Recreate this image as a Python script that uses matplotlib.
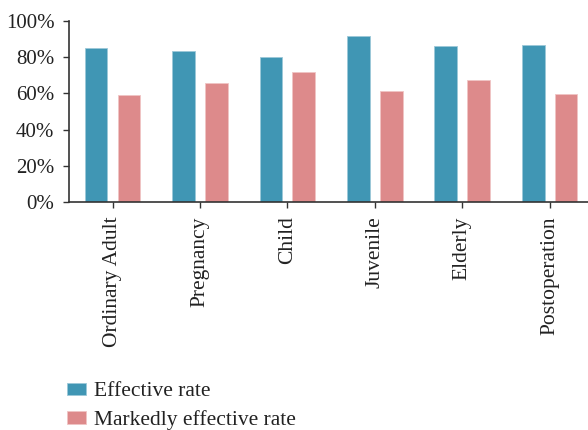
import numpy as np
import matplotlib
matplotlib.use("Agg")
from matplotlib import pyplot as plt
from matplotlib.ticker import PercentFormatter

plt.rcParams['font.family'] = ['Liberation Serif', 'DejaVu Serif']

categories = ["Ordinary Adult", "Pregnancy", "Child", "Juvenile", "Elderly", "Postoperation"]
effective = [85.0, 83.5, 80.0, 91.5, 86.5, 87.0]
markedly = [59.0, 65.7, 71.8, 61.5, 67.2, 59.8]
series_names = ["Effective rate", "Markedly effective rate"]

blue = "#4096b4"
pink = "#dd8a8b"

fig = plt.figure(figsize=(5.88, 4.30), dpi=100)
ax = fig.add_axes([0.117, 0.530, 0.892, 0.421])

x = np.arange(len(categories))
w = 0.26
off = 0.188
ax.bar(x - off, effective, w, color=blue, edgecolor="#9cc8d8", linewidth=0.6, label=series_names[0])
ax.bar(x + off, markedly, w, color=pink, edgecolor="#f0c4c4", linewidth=0.6, label=series_names[1])

ax.set_xlim(-0.5, len(categories) - 0.5)
ax.set_ylim(0, 100)
ax.set_yticks(np.arange(0, 101, 20))
ax.yaxis.set_major_formatter(PercentFormatter(decimals=0))
ax.set_xticks(x)
ax.set_xticklabels(categories, rotation=90, va="top")

for s in ["top", "right"]:
    ax.spines[s].set_visible(False)
for s in ["left", "bottom"]:
    ax.spines[s].set_color("#333333")
    ax.spines[s].set_linewidth(1.2)

ax.tick_params(axis="both", colors="#333333", labelcolor="#222222", labelsize=15.5,
               length=4.3, width=1.0)
ax.tick_params(axis="y", pad=6, labelsize=15)
ax.tick_params(axis="x", pad=6)

fig.legend(loc="upper left", bbox_to_anchor=(0.1, 0.131), frameon=False,
           fontsize=15.5, handlelength=0.85, handleheight=0.5, handletextpad=0.4,
           labelspacing=0.42, borderaxespad=0, labelcolor="#222222")

fig.savefig("out.png", dpi=100)
